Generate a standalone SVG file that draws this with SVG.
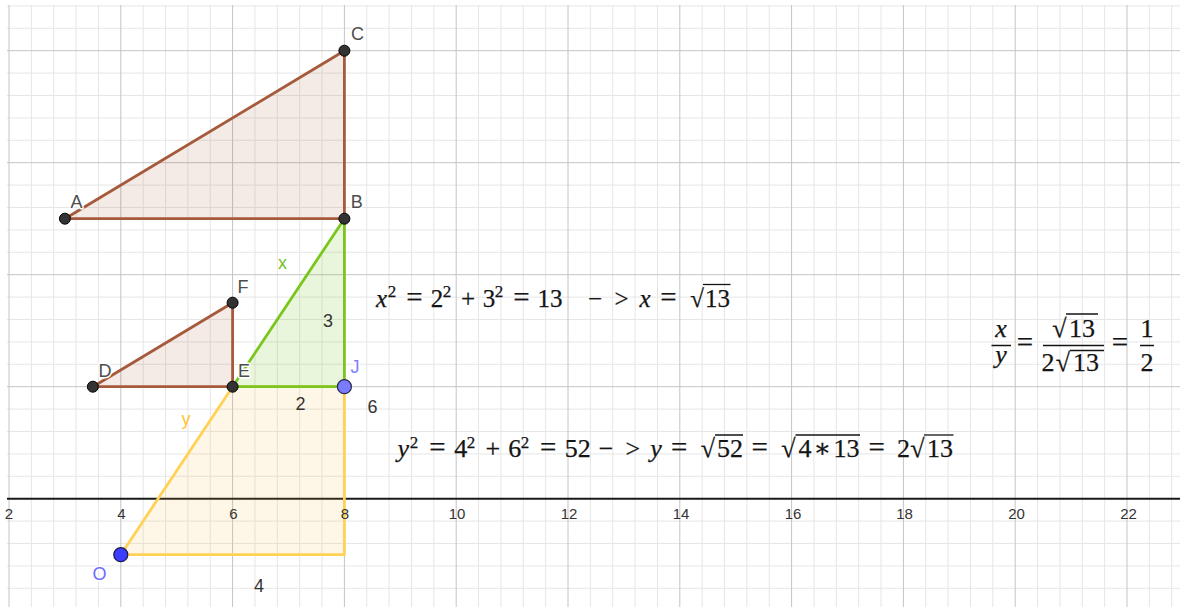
<svg xmlns="http://www.w3.org/2000/svg" width="1180" height="607" viewBox="0 0 1180 607">
<defs>
<clipPath id="view"><rect x="7" y="5" width="1173" height="602"/></clipPath>
</defs>
<style>
.minor{stroke:#e6e6e6;stroke-width:1;fill:none}
.major{stroke:#c4c4c4;stroke-width:1;fill:none}
.axis{stroke:#1a1a1a;stroke-width:2;fill:none}
.tick{font-family:"Liberation Sans",Arial,sans-serif;font-size:15px;fill:#333;text-anchor:middle}
.brown{stroke:#a55a3c;stroke-width:2.8;fill:#a55a3c;fill-opacity:0.12;stroke-linejoin:round}
.green{stroke:#7ac61f;stroke-width:2.8;fill:#7ac61f;fill-opacity:0.16;stroke-linejoin:round}
.yellow{stroke:#ffd255;stroke-width:2.8;fill:#f7b733;fill-opacity:0.12;stroke-linejoin:round}
.pt{fill:#333;stroke:#000;stroke-width:1}
.plabel{font-family:"Liberation Sans",Arial,sans-serif;font-size:18px;fill:#4d4d4d;text-anchor:middle;stroke:#fff;stroke-width:3;paint-order:stroke;stroke-linejoin:round}
.slabel{font-family:"Liberation Sans",Arial,sans-serif;font-size:18px;fill:#333;text-anchor:middle}
.m{font-family:"Liberation Serif","DejaVu Serif",serif;font-size:26px;fill:#141414;stroke:#141414;stroke-width:0.25;text-anchor:middle}
.m1{font-size:25px}
.i{font-style:italic}
.s{font-size:17px}
.eq{font-size:29px}
.rule{stroke:#141414;stroke-width:1.3;fill:none}
</style>
<rect width="1180" height="607" fill="#fff"/>
<g id="grid" clip-path="url(#view)">
<path class="minor" d="M31.36 5V607M53.72 5V607M76.08 5V607M98.44 5V607M143.16 5V607M165.52 5V607M187.88 5V607M210.24 5V607M254.96 5V607M277.32 5V607M299.68 5V607M322.04 5V607M366.76 5V607M389.12 5V607M411.48 5V607M433.84 5V607M478.56 5V607M500.92 5V607M523.28 5V607M545.64 5V607M590.36 5V607M612.72 5V607M635.08 5V607M657.44 5V607M702.16 5V607M724.52 5V607M746.88 5V607M769.24 5V607M813.96 5V607M836.32 5V607M858.68 5V607M881.04 5V607M925.76 5V607M948.12 5V607M970.48 5V607M992.84 5V607M1037.56 5V607M1059.92 5V607M1082.28 5V607M1104.64 5V607M1149.36 5V607M1171.72 5V607M7 5.9H1180M7 28.3H1180M7 73.1H1180M7 95.5H1180M7 117.9H1180M7 140.3H1180M7 185.1H1180M7 207.5H1180M7 229.9H1180M7 252.3H1180M7 297.1H1180M7 319.5H1180M7 341.9H1180M7 364.3H1180M7 409.1H1180M7 431.5H1180M7 453.9H1180M7 476.3H1180M7 521.1H1180M7 543.5H1180M7 565.9H1180M7 588.3H1180"/>
<path class="major" d="M9 5V607M120.8 5V607M232.6 5V607M344.4 5V607M456.2 5V607M568 5V607M679.8 5V607M791.6 5V607M903.4 5V607M1015.2 5V607M1127 5V607M7 50.7H1180M7 162.7H1180M7 274.7H1180M7 386.7H1180"/>
</g>
<g id="axis">
<path class="axis" d="M7 498.7H1180"/>
</g>
<g id="connectors">
<polygon id="poly-yellow" class="yellow" points="120.8,554.7 232.6,386.7 344.4,386.7 344.4,554.7"/>
<polygon id="poly-green" class="green" points="232.6,386.7 344.4,386.7 344.4,218.7"/>
<polygon id="poly-ABC" class="brown" points="64.9,218.7 344.4,218.7 344.4,50.7"/>
<polygon id="poly-DEF" class="brown" points="92.85,386.7 232.6,386.7 232.6,302.7"/>
</g>
<g id="ticks">
<text class="tick" x="9" y="519">2</text>
<text class="tick" x="121.5" y="519">4</text>
<text class="tick" x="233.3" y="519">6</text>
<text class="tick" x="345" y="519">8</text>
<text class="tick" x="457" y="519">10</text>
<text class="tick" x="569" y="519">12</text>
<text class="tick" x="681" y="519">14</text>
<text class="tick" x="793" y="519">16</text>
<text class="tick" x="904.5" y="519">18</text>
<text class="tick" x="1016.5" y="519">20</text>
<text class="tick" x="1128.5" y="519">22</text>
</g>
<g id="segment-labels">
<text class="slabel" x="282.5" y="269" style="fill:#72c21a">x</text>
<text class="slabel" x="328" y="327">3</text>
<text class="slabel" x="300.5" y="410">2</text>
<text class="slabel" x="372.5" y="413">6</text>
<text class="slabel" x="259" y="591.5">4</text>
<text class="slabel" x="186" y="424.5" style="fill:#ffc533">y</text>
</g>
<g id="point-A"><circle class="pt" cx="64.9" cy="218.7" r="5.5"/><text class="plabel" x="76.5" y="208">A</text></g>
<g id="point-B"><circle class="pt" cx="344.4" cy="218.7" r="5.5"/><text class="plabel" x="356.7" y="208.3">B</text></g>
<g id="point-C"><circle class="pt" cx="344.4" cy="50.7" r="5.5"/><text class="plabel" x="357.5" y="40">C</text></g>
<g id="point-D"><circle class="pt" cx="92.85" cy="386.7" r="5.5"/><text class="plabel" x="105" y="376.7">D</text></g>
<g id="point-E"><circle class="pt" cx="232.6" cy="386.7" r="5.5"/><text class="plabel" x="244" y="376.7">E</text></g>
<g id="point-F"><circle class="pt" cx="232.6" cy="302.7" r="5.5"/><text class="plabel" x="243" y="293.3">F</text></g>
<g id="point-J"><circle cx="344.4" cy="386.7" r="7" fill="#7b7bff" stroke="#2a2a4a" stroke-width="1.2"/><text class="plabel" x="355" y="373.3" style="fill:#7f7fff">J</text></g>
<g id="point-O"><circle cx="120.8" cy="554.7" r="7" fill="#3d3dff" stroke="#1a1a4a" stroke-width="1.2"/><text class="plabel" x="99.5" y="580" style="fill:#6b6bff">O</text></g>
<g id="eq1">
<text class="m m1" y="306.5"><tspan class="i" x="381.5">x</tspan><tspan class="s" x="392" y="297">2</tspan><tspan class="eq" x="414.5" y="306.5">=</tspan><tspan x="437">2</tspan><tspan class="s" x="447" y="297">2</tspan><tspan x="468" y="306.5">+</tspan><tspan x="489">3</tspan><tspan class="s" x="499" y="297">2</tspan><tspan class="eq" x="521.5" y="306.5">=</tspan><tspan x="550">13</tspan><tspan x="595">−</tspan><tspan x="621.5">&gt;</tspan><tspan class="i" x="645">x</tspan><tspan class="eq" x="668.5">=</tspan><tspan x="697">√</tspan><tspan x="717.5">13</tspan></text>
<path class="rule" d="M703 284.5H730.5"/>
</g>
<g id="eq2">
<text class="m" y="457"><tspan class="i" x="403.2">y</tspan><tspan class="s" x="414" y="447.5">2</tspan><tspan class="eq" x="437.5" y="457">=</tspan><tspan x="460.8">4</tspan><tspan class="s" x="471" y="447.5">2</tspan><tspan x="492.8" y="457">+</tspan><tspan x="514.7">6</tspan><tspan class="s" x="525" y="447.5">2</tspan><tspan class="eq" x="548.1" y="457">=</tspan><tspan x="577.7">52</tspan><tspan x="606">−</tspan><tspan x="632.8">&gt;</tspan><tspan class="i" x="656">y</tspan><tspan class="eq" x="679.1">=</tspan><tspan x="708">√</tspan><tspan x="729.9">52</tspan><tspan class="eq" x="759.6">=</tspan><tspan x="788.5">√</tspan><tspan x="805">4</tspan><tspan x="822.3">∗</tspan><tspan x="846.5">13</tspan><tspan class="eq" x="876.7">=</tspan><tspan x="903.5">2</tspan><tspan x="917.5">√</tspan><tspan x="940">13</tspan></text>
<path class="rule" d="M924 435H953.5"/>
<path class="rule" d="M715 435H743M795.5 435H860"/>
</g>
<g id="eq3">
<text class="m"><tspan class="i" x="1001" y="336.5">x</tspan><tspan class="i" x="1001" y="363">y</tspan><tspan class="eq" x="1025" y="352">=</tspan><tspan x="1059.5" y="336.5">√</tspan><tspan x="1082" y="336.5">13</tspan><tspan x="1048" y="371">2</tspan><tspan x="1063" y="371">√</tspan><tspan x="1086" y="371">13</tspan><tspan class="eq" x="1120" y="352">=</tspan><tspan x="1147" y="336.5">1</tspan><tspan x="1147" y="371">2</tspan></text>
<path class="rule" d="M991.5 345.5H1011M1043 345.5H1104M1140 345.5H1154M1066 314H1098M1070 350.5H1104"/>
</g>
</svg>
